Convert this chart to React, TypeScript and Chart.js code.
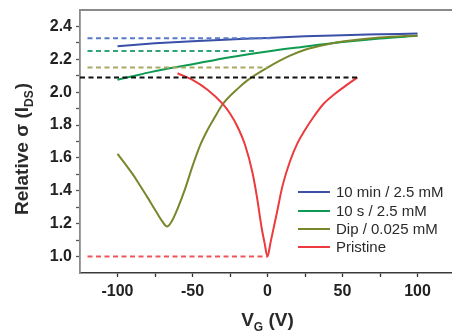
import React, { useEffect, useRef } from 'react';
import { Chart, registerables } from 'chart.js';
Chart.register(...registerables);

// ---- data ----
const blueX = [-100, -75, -50, -25, 0, 25, 50, 75, 100];
const blueY = [2.28, 2.297, 2.31, 2.321, 2.33, 2.34, 2.347, 2.352, 2.357];

const greenX = [-100, -90, -78, -50, -25, 0, 22, 50, 75, 100];
const greenY = [2.076, 2.097, 2.122, 2.17, 2.213, 2.248, 2.274, 2.305, 2.327, 2.343];

const oliveX = [-100, -95, -90, -85, -80, -75, -70, -67, -64, -60, -55, -50, -45, -40, -35, -30, -20, -13, 0, 15, 25, 40, 50, 75, 100];
const oliveY = [1.625, 1.565, 1.503, 1.432, 1.36, 1.285, 1.212, 1.183, 1.212, 1.29, 1.41, 1.55, 1.675, 1.77, 1.85, 1.925, 2.02, 2.075, 2.15, 2.222, 2.258, 2.292, 2.308, 2.332, 2.345];

const redX = [-60, -50, -40, -30, -25, -20, -15, -10, -7, -4, -2, 0, 2, 4, 6, 10, 15, 20, 25, 30, 37, 45, 50, 55, 60];
const redY = [2.115, 2.075, 2.015, 1.93, 1.87, 1.79, 1.68, 1.51, 1.36, 1.18, 1.085, 1.0, 1.085, 1.17, 1.255, 1.43, 1.58, 1.69, 1.77, 1.84, 1.925, 1.99, 2.025, 2.058, 2.09];

const seriesLabels = ['10 min / 2.5 mM', '10 s / 2.5 mM', 'Dip / 0.025 mM', 'Pristine'];

// dashed reference levels
const refLevel = [2.328, 2.25, 2.15, 2.09, 1.0];
const refFrom = [-120, -120, -120, -125, -120];
const refTo = [5, -7, 0, 60, 0];

const xTickVals = [-100, -75, -50, -25, 0, 25, 50, 75, 100, 125];
const yTickVals = [1.0, 1.1, 1.2, 1.3, 1.4, 1.5, 1.6, 1.7, 1.8, 1.9, 2.0, 2.1, 2.2, 2.3, 2.4];
const yLabelVals = [1.0, 1.2, 1.4, 1.6, 1.8, 2.0, 2.2, 2.4];
const xLabelVals = [-100, -50, 0, 50, 100];

// ---- styles ----
const lineColors = ['#3a4fa6', '#0e9a52', '#77872c', '#ec3a3d'];
const refColors = ['#5a78c8', '#33a477', '#a7a962', '#111111', '#f0545a'];
const FONT = '"Liberation Sans", Arial, sans-serif';

const pts = (xs: number[], ys: number[]) => xs.map((x, i) => ({ x, y: ys[i] }));

const framePlugin = {
  id: 'frame',
  afterDraw(chart: any) {
    const { ctx, chartArea } = chart;
    const { left, top, right } = chartArea;
    ctx.save();
    // top border
    ctx.strokeStyle = '#8a8a8a';
    ctx.lineWidth = 2;
    ctx.beginPath();
    ctx.moveTo(left - 1, top);
    ctx.lineTo(right, top);
    ctx.stroke();

    // legend
    const lx0 = 298, lx1 = 330, tx = 336;
    const rows = [192, 211, 229, 247];
    ctx.font = `15px ${FONT}`;
    ctx.textBaseline = 'middle';
    ctx.textAlign = 'left';
    rows.forEach((ry, i) => {
      ctx.strokeStyle = lineColors[i];
      ctx.lineWidth = 2;
      ctx.beginPath();
      ctx.moveTo(lx0, ry);
      ctx.lineTo(lx1, ry);
      ctx.stroke();
      ctx.fillStyle = '#2a2a2a';
      ctx.fillText(seriesLabels[i], tx, ry + 1);
    });

    // y title with subscript
    ctx.fillStyle = '#2a2a2a';
    ctx.textBaseline = 'alphabetic';
    const main = 'Relative σ (I';
    const sub = 'DS';
    const tail = ')';
    ctx.font = `bold 19px ${FONT}`;
    const wMain = ctx.measureText(main).width;
    const wTail = ctx.measureText(tail).width;
    ctx.font = `bold 12px ${FONT}`;
    const wSub = ctx.measureText(sub).width;
    const total = wMain + wSub + wTail + 1;
    ctx.translate(28, 149);
    ctx.rotate(-Math.PI / 2);
    let x = -total / 2;
    ctx.font = `bold 19px ${FONT}`;
    ctx.fillText(main, x, 0);
    x += wMain;
    ctx.font = `bold 12px ${FONT}`;
    ctx.fillText(sub, x, 5);
    x += wSub + 1;
    ctx.font = `bold 19px ${FONT}`;
    ctx.fillText(tail, x, 0);
    ctx.restore();

    // x title with subscript
    ctx.save();
    ctx.fillStyle = '#2a2a2a';
    ctx.textBaseline = 'alphabetic';
    const xs = chart.scales.x;
    const cx = xs.getPixelForValue(0);
    ctx.font = `bold 19px ${FONT}`;
    const a = 'V', c = ' (V)';
    const wa = ctx.measureText(a).width;
    const wc = ctx.measureText(c).width;
    ctx.font = `bold 12px ${FONT}`;
    const b = 'G';
    const wb = ctx.measureText(b).width;
    let px = cx - (wa + wb + wc) / 2;
    ctx.font = `bold 19px ${FONT}`;
    ctx.fillText(a, px, 326);
    px += wa;
    ctx.font = `bold 12px ${FONT}`;
    ctx.fillText(b, px, 331);
    px += wb;
    ctx.font = `bold 19px ${FONT}`;
    ctx.fillText(c, px, 326);
    ctx.restore();
  },
};

export default function App() {
  const ref = useRef<HTMLCanvasElement>(null);
  useEffect(() => {
    const canvas = ref.current!;
    const refSets = refLevel.map((lv, i) => ({
      label: 'ref' + i,
      data: [{ x: refFrom[i], y: lv }, { x: refTo[i], y: lv }],
      borderColor: refColors[i],
      borderWidth: 2,
      borderDash: [5, 3.5],
      pointRadius: 0,
      fill: false,
    }));
    const series = [
      pts(redX, redY),
      pts(oliveX, oliveY),
      pts(greenX, greenY),
      pts(blueX, blueY),
    ];
    const colorIdx = [3, 2, 1, 0];
    const lineSets = series.map((d, i) => ({
      label: seriesLabels[colorIdx[i]],
      data: d,
      borderColor: lineColors[colorIdx[i]],
      borderWidth: 2,
      pointRadius: 0,
      fill: false,
      cubicInterpolationMode: 'monotone' as const,
    }));
    const chart = new Chart(canvas, {
      type: 'line',
      data: { datasets: [...refSets, ...lineSets] as any },
      options: {
        responsive: false,
        animation: false,
        devicePixelRatio: 1,
        layout: { padding: { top: 10, right: 15, left: 0, bottom: 0 } },
        plugins: { legend: { display: false }, tooltip: { enabled: false } },
        scales: {
          x: {
            type: 'linear',
            min: -125,
            max: 125,
            afterBuildTicks: (s: any) => {
              s.ticks = xTickVals.map((v) => ({ value: v }));
            },
            afterFit: (s: any) => {
              s.height = 60;
              s.paddingLeft = 0;
              s.paddingRight = 0;
              s.paddingTop = 0;
              s.paddingBottom = 0;
            },
            grid: { display: true, drawOnChartArea: false, drawTicks: true, tickLength: 4, tickColor: '#333', tickWidth: 1.3 },
            border: { display: true, color: '#3a3a3a', width: 1.5 },
            ticks: {
              autoSkip: false,
              maxRotation: 0,
              padding: 5,
              color: '#222',
              font: { family: FONT, weight: 'bold', size: 16 },
              callback: (v: any) => (xLabelVals.includes(Number(v)) ? String(v) : ''),
            },
          },
          y: {
            type: 'linear',
            min: 0.9,
            max: 2.5,
            afterBuildTicks: (s: any) => {
              s.ticks = yTickVals.map((v) => ({ value: v }));
            },
            afterFit: (s: any) => {
              s.width = 80;
              s.paddingLeft = 0;
              s.paddingRight = 0;
              s.paddingTop = 0;
              s.paddingBottom = 0;
            },
            grid: { display: true, drawOnChartArea: false, drawTicks: true, tickLength: 4, tickColor: '#555', tickWidth: 1.3 },
            border: { display: true, color: '#8a8a8a', width: 1.8 },
            ticks: {
              autoSkip: false,
              padding: 4,
              color: '#222',
              font: { family: FONT, weight: 'bold', size: 16 },
              callback: (v: any) => {
                const n = Number(v);
                return yLabelVals.some((t) => Math.abs(t - n) < 1e-6) ? n.toFixed(1) : '';
              },
            },
          },
        },
      } as any,
      plugins: [framePlugin],
    });
    return () => chart.destroy();
  }, []);
  return (
    <div style={{ position: 'fixed', left: 0, top: 0, width: 452, height: 333, overflow: 'hidden', background: '#fff' }}>
      <canvas ref={ref} width={470} height={333} style={{ display: 'block', width: 470, height: 333 }} />
    </div>
  );
}
